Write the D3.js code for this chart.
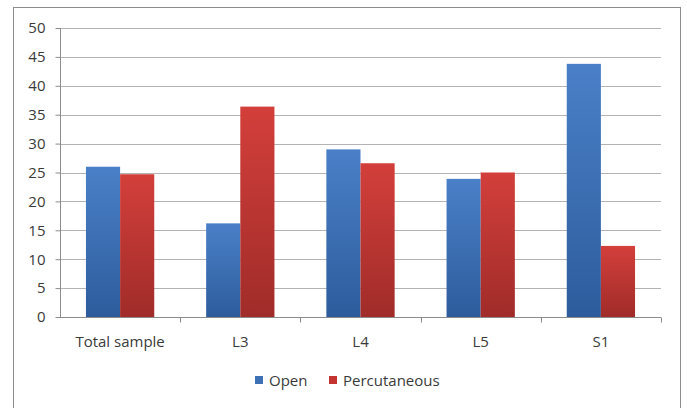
<!DOCTYPE html>
<html>
<head>
<meta charset="utf-8">
<script src="https://cdn.jsdelivr.net/npm/d3@7"></script>
<style>
  body { margin: 0; background: #fff; }
  svg { display: block; }
</style>
</head>
<body>
<div id="chart"></div>
<script>
const categories = ["Total sample", "L3", "L4", "L5", "S1"];
const series = ["Open", "Percutaneous"];
const openValues = [26, 16.2, 29, 23.9, 43.8];
const percValues = [24.7, 36.4, 26.6, 25, 12.3];
const yTicks = [0, 5, 10, 15, 20, 25, 30, 35, 40, 45, 50];

const W = 687, H = 408;
const plot = {left: 60, right: 661, top: 28, bottom: 317};
const font = "'Open Sans', sans-serif";

const svg = d3.select("#chart").append("svg")
    .attr("width", W)
    .attr("height", H);

// gradients, a bit like the office bars
const defs = svg.append("defs");
function grad(id, top, bottom) {
    const g = defs.append("linearGradient")
        .attr("id", id).attr("x1", 0).attr("y1", 0).attr("x2", 0).attr("y2", 1);
    g.append("stop").attr("offset", "0%").attr("stop-color", top);
    g.append("stop").attr("offset", "100%").attr("stop-color", bottom);
}
grad("g-open", "#4a80c8", "#2d5c9c");
grad("g-perc", "#d33f3b", "#a02c29");
const fills = ["url(#g-open)", "url(#g-perc)"];
const legendColors = ["#3e70b5", "#c3332f"];

// outer frame
svg.append("rect")
    .attr("x", 13.5).attr("y", 7.5)
    .attr("width", 667).attr("height", 410)
    .attr("fill", "none")
    .attr("stroke", "#8c8c8c");

const x = d3.scaleBand().domain(categories).range([plot.left, plot.right]);
const xs = d3.scaleBand().domain(series).range([0, x.bandwidth()]).paddingOuter(0.76);
const y = d3.scaleLinear().domain([0, 50]).range([plot.bottom, plot.top]);

// gridlines
svg.append("g")
    .selectAll("line")
    .data(yTicks.filter(d => d > 0))
    .join("line")
    .attr("x1", plot.left).attr("x2", plot.right)
    .attr("y1", d => Math.round(y(d)) + 0.5)
    .attr("y2", d => Math.round(y(d)) + 0.5)
    .attr("stroke", "#b3b3b3");

// bars
const rows = categories.map((c, i) => ({cat: c, vals: [openValues[i], percValues[i]]}));
svg.append("g")
    .selectAll("g")
    .data(rows)
    .join("g")
    .attr("transform", d => `translate(${x(d.cat)},0)`)
    .selectAll("rect")
    .data(d => d.vals.map((v, j) => ({key: series[j], v: v, j: j})))
    .join("rect")
    .attr("x", d => xs(d.key))
    .attr("width", xs.bandwidth())
    .attr("y", d => y(d.v))
    .attr("height", d => y(0) - y(d.v))
    .attr("fill", d => fills[d.j]);

// y axis
const yAxis = svg.append("g")
    .attr("transform", `translate(${plot.left + 0.5},0)`)
    .call(d3.axisLeft(y).tickValues(yTicks).tickSize(5).tickPadding(10));
yAxis.select(".domain").attr("stroke", "#8c8c8c").attr("d", `M0,${plot.top}V${plot.bottom}`);
yAxis.selectAll(".tick line").attr("stroke", "#8c8c8c");
yAxis.selectAll("text")
    .attr("fill", "#3a3a3a")
    .style("font", `15px ${font}`);

// x axis
const xAxis = svg.append("g")
    .attr("transform", `translate(0,${Math.round(plot.bottom) + 0.5})`);
xAxis.append("line")
    .attr("x1", plot.left).attr("x2", plot.right)
    .attr("stroke", "#8c8c8c");
xAxis.selectAll(".sep")
    .data(categories)
    .join("line")
    .attr("class", "sep")
    .attr("x1", d => Math.round(x(d) + x.bandwidth()) + 0.5)
    .attr("x2", d => Math.round(x(d) + x.bandwidth()) + 0.5)
    .attr("y1", 0).attr("y2", 5)
    .attr("stroke", "#8c8c8c");
xAxis.selectAll("text")
    .data(categories)
    .join("text")
    .attr("x", d => x(d) + x.bandwidth() / 2)
    .attr("y", 29)
    .attr("text-anchor", "middle")
    .attr("fill", "#3a3a3a")
    .style("font", `15px ${font}`)
    .text(d => d);

// legend
const legendX = [255, 329];
const legend = svg.append("g")
    .selectAll("g")
    .data(series)
    .join("g")
    .attr("transform", (d, i) => `translate(${legendX[i]},376)`);
legend.append("rect")
    .attr("width", 8).attr("height", 8)
    .attr("fill", (d, i) => legendColors[i]);
legend.append("text")
    .attr("x", 14).attr("y", 9.5)
    .attr("fill", "#3a3a3a")
    .style("font", `15px ${font}`)
    .text(d => d);
</script>
</body>
</html>
